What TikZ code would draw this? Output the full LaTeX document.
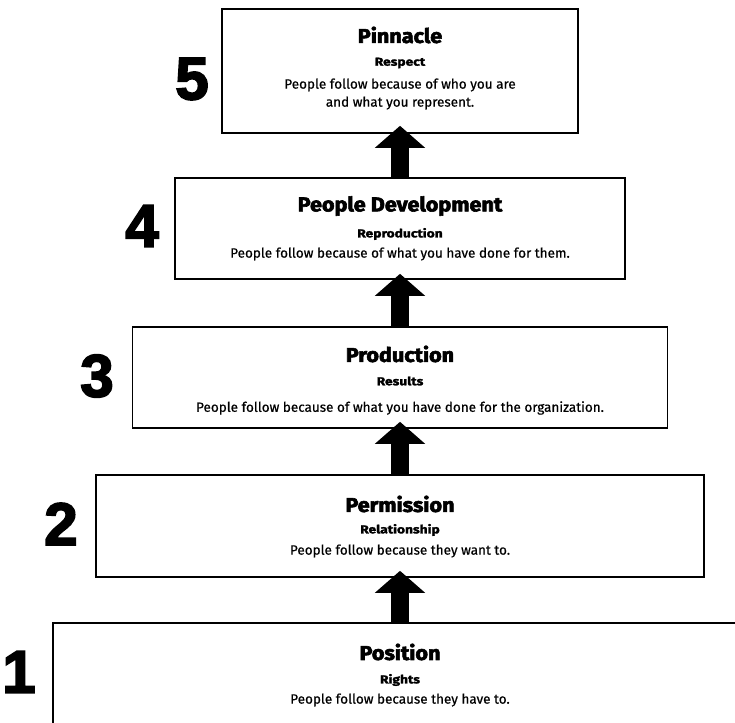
\documentclass[tikz,border=0pt]{standalone}
\usepackage{fontspec}
\setmainfont{Fira Sans}[FakeBold=0.6]
\newfontfamily\titlefont{Fira Sans}[FakeBold=3, FakeStretch=1.08]
\newfontfamily\subfont{Fira Sans}[FakeBold=2, FakeStretch=1.2]
\newfontfamily\numfont{Liberation Sans}[FakeBold=3]
\usetikzlibrary{arrows.meta}
\begin{document}
\begin{tikzpicture}[x=1pt,y=-1pt,
  box/.style={draw=black, line width=1.6pt, inner sep=0pt, fill=white},
  ttl/.style={inner sep=0pt, font=\titlefont\bfseries\fontsize{20}{22}\selectfont},
  sub/.style={inner sep=0pt, font=\subfont\bfseries\fontsize{11.5}{13}\selectfont},
  body/.style={inner sep=0pt, align=center, font=\fontsize{13.5}{18}\selectfont},
  num/.style={inner sep=0pt, font=\numfont\bfseries\fontsize{60}{60}\selectfont},
  uparrow/.style={-{Triangle[length=22pt,width=49pt]}, line width=18pt, draw=black}
]
\useasboundingbox (0,0) rectangle (735,722);
\fill[white] (0,0) rectangle (735,722);
\clip (0,0) rectangle (735,722);

% boxes
\node[box, minimum width=356pt, minimum height=124pt] (b5) at (400,71) {};
\node[box, minimum width=450pt, minimum height=101pt] (b4) at (400,228.5) {};
\node[box, minimum width=535pt, minimum height=101pt] (b3) at (400,377.5) {};
\node[box, minimum width=608pt, minimum height=102pt] (b2) at (400,526) {};
\node[box, minimum width=694pt, minimum height=114pt] (b1) at (400,680) {};

% arrows
\draw[uparrow, shorten >=-8pt] (b4.north) -- (b5.south);
\draw[uparrow, shorten >=-6pt] (b3.north) -- (b4.south);
\draw[uparrow, shorten >=-7pt] (b2.north) -- (b3.south);
\draw[uparrow, shorten >=-7pt] (b1.north) -- (b2.south);

% level 5
\node[ttl] (t5) at (400,35) {Pinnacle};
\node[sub] (s5) at (400,63) {Respect};
\node[body] (d5) at (400,94) {People follow because of who you are\\and what you represent.};
% level 4
\node[ttl] (t4) at (400,206) {People Development};
\node[sub] (s4) at (400,234) {Reproduction};
\node[body] (d4) at (400,254) {People follow because of what you have done for them.};
% level 3
\node[ttl] (t3) at (400,354) {Production};
\node[sub] (s3) at (400,381) {Results};
\node[body] (d3) at (400,408) {People follow because of what you have done for the organization.};
% level 2
\node[ttl] (t2) at (400,504) {Permission};
\node[sub] (s2) at (400,530) {Relationship};
\node[body] (d2) at (400,551) {People follow because they want to.};
% level 1
\node[ttl] (t1) at (400,652) {Position};
\node[sub] (s1) at (400,680) {Rights};
\node[body] (d1) at (400,700) {People follow because they have to.};

% numbers
\node[num] (n5) at (192,79) {5};
\node[num] (n4) at (142,226) {4};
\node[num] (n3) at (97,376) {3};
\node[num] (n2) at (61,524) {2};
\node[num] (n1) at (19,672) {1};
\end{tikzpicture}
\end{document}
